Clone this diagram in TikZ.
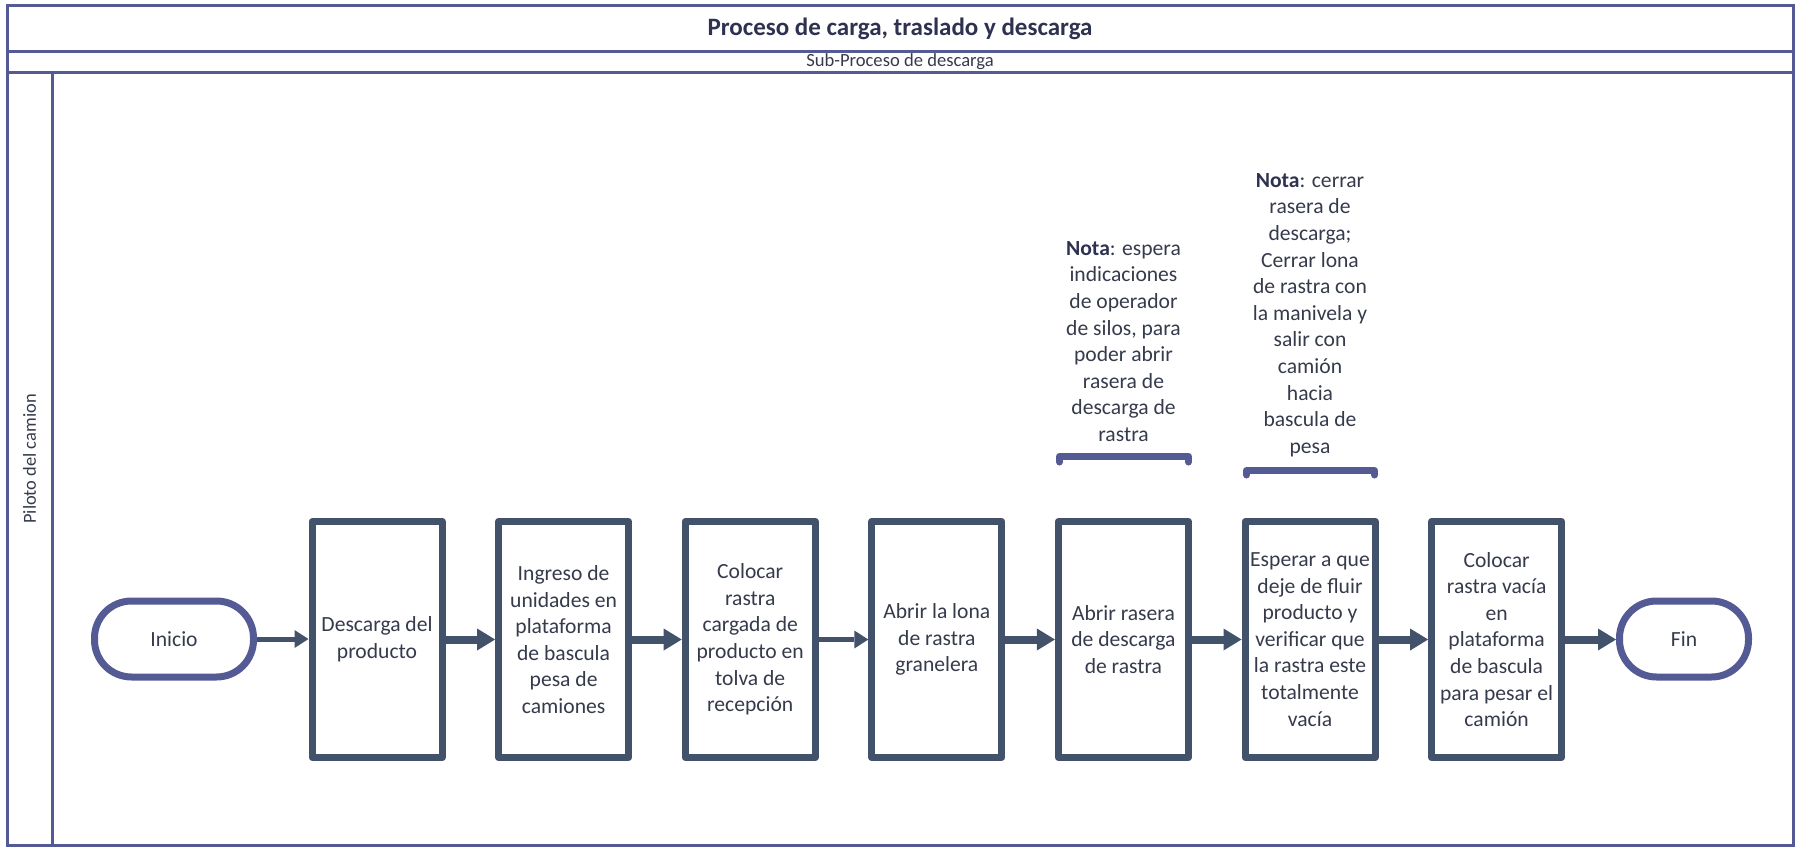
\documentclass[tikz,border=0pt]{standalone}
\usepackage{fontspec}
\setmainfont{Carlito}
\usetikzlibrary{arrows.meta}

\definecolor{framec}{HTML}{545A94}
\definecolor{boxc}{HTML}{41526A}
\definecolor{txtc}{HTML}{363B4C}
\definecolor{titlec}{HTML}{2E3150}

\newcommand{\boxfont}{\fontsize{21.6}{26.6}\selectfont}

\begin{document}
\begin{tikzpicture}[x=1pt,y=-1pt,
  frame/.style={draw=framec,line width=3pt},
  stepbox/.style={draw=boxc,line width=7pt,line join=round,fill=white,
    minimum width=130pt,minimum height=236pt,inner sep=0pt,
    align=center,font=\boxfont,text=txtc},
  terminal/.style={draw=framec,line width=7pt,rounded corners=37pt,fill=white,
    minimum height=76pt,inner sep=0pt,font=\boxfont,text=txtc},
  note/.style={align=center,font=\boxfont,text=txtc,inner sep=0pt},
  flow/.style={draw=boxc,line width=8pt,
    -{Triangle[length=18pt,width=22pt,line width=0pt]}},
  flowthin/.style={draw=boxc,line width=5pt,
    -{Triangle[length=14pt,width=18pt,line width=0pt]}},
  brk/.style={draw=framec,line width=7pt,line cap=round,line join=round}
]
\useasboundingbox (0,0) rectangle (1797,848);

% pool frame, title band, sub-process band and lane header
\draw[frame] (7,6) rectangle (1793,845.5);
\draw[frame] (7,51.5) -- (1793,51.5);
\draw[frame] (7,72.5) -- (1793,72.5);
\draw[frame] (52,72.5) -- (52,845.5);

\node[font=\fontsize{25}{30}\selectfont\bfseries,text=titlec] (title) at (900,28.5)
  {Proceso de carga, traslado y descarga};
\node[font=\fontsize{18.6}{22}\selectfont,text=txtc] (sub) at (900,62)
  {Sub-Proceso de descarga};
\node[font=\fontsize{18.4}{22}\selectfont,text=txtc,rotate=90] (lane) at (29.5,459)
  {Piloto del camion};

% terminals
\node[terminal,minimum width=159pt] (inicio) at (174,639) {Inicio};
\node[terminal,minimum width=129pt] (fin) at (1684,639) {Fin};

% process steps
\node[stepbox] (b1) at (377,639.5) {Descarga del\\producto};
\node[stepbox] (b2) at (563.6,639.5) {Ingreso de\\unidades en\\plataforma\\de bascula\\pesa de\\camiones};
\node[stepbox] (b3) at (750.2,639.5) {Colocar\\rastra\\cargada de\\producto en\\tolva de\\recepción};
\node[stepbox] (b4) at (936.8,639.5) {Abrir la lona\\de rastra\\granelera};
\node[stepbox] (b5) at (1123.4,639.5) {Abrir rasera\\de descarga\\de rastra};
\node[stepbox] (b6) at (1310,639.5) {Esperar a que\\deje de fluir\\producto y\\verificar que\\la rastra este\\totalmente\\vacía};
\node[stepbox] (b7) at (1496.6,639.5) {Colocar\\rastra vacía\\en\\plataforma\\de bascula\\para pesar el\\camión};

% connectors
\draw[flowthin] (inicio.east) -- (b1.west |- inicio.east);
\draw[flow] (b1.east) -- (b2.west);
\draw[flow] (b2.east) -- (b3.west);
\draw[flowthin] (b3.east) -- (b4.west);
\draw[flow] (b4.east) -- (b5.west);
\draw[flow] (b5.east) -- (b6.west);
\draw[flow] (b6.east) -- (b7.west);
\draw[flow] (b7.east) -- (fin.west |- b7.east);

% annotations with their brackets
\node[note] (nota1) at (1123.5,341.5)
  {{\color{titlec}\bfseries Nota}: espera\\indicaciones\\de operador\\de silos, para\\poder abrir\\rasera de\\descarga de\\rastra};
\node[note] (nota2) at (1310,315)
  {{\color{titlec}\bfseries Nota}: cerrar\\rasera de\\descarga;\\Cerrar lona\\de rastra con\\la manivela y\\salir con\\camión\\hacia\\bascula de\\pesa};

\draw[brk] (1059.5,462) -- (1059.5,456.5) -- (1188.5,456.5) -- (1188.5,462);
\draw[brk] (1246.5,475) -- (1246.5,470.5) -- (1374.5,470.5) -- (1374.5,475);
\end{tikzpicture}
\end{document}
